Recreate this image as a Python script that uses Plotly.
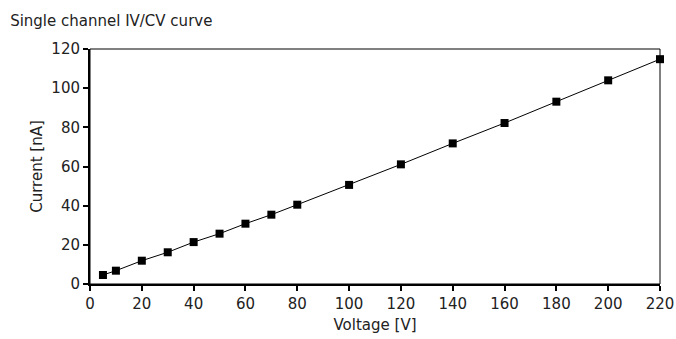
import plotly.graph_objects as go

voltage = [5, 10, 20, 30, 40, 50, 60, 70, 80, 100, 120, 140, 160, 180, 200, 220]
current = [4.6, 6.8, 11.9, 16.2, 21.4, 25.7, 30.8, 35.4, 40.5, 50.6, 61.1, 71.8, 82.2, 93.1, 104.0, 114.8]

x_ticks = list(range(0, 221, 20))
y_ticks = list(range(0, 121, 20))

FONT = "DejaVu Sans"

fig = go.Figure()
fig.add_trace(go.Scatter(
    x=voltage, y=current, mode="lines+markers",
    line=dict(color="black", width=1),
    marker=dict(symbol="square", size=8, color="black"),
    cliponaxis=False, showlegend=False,
))

fig.update_layout(
    width=676, height=339,
    margin=dict(l=90, r=16, t=49, b=55, autoexpand=False),
    paper_bgcolor="white", plot_bgcolor="white",
    font=dict(family=FONT, size=15, color="#222"),
    title=dict(text="Single channel IV/CV curve", x=0.015, xanchor="left",
               y=0.94, yanchor="middle", automargin=False,
               font=dict(family=FONT, size=15, color="#222")),
    xaxis=dict(range=[0, 220], tickvals=x_ticks, ticks="outside", ticklen=5, tickwidth=1.5,
               tickcolor="black", showgrid=False, zeroline=False, showline=True,
               automargin=False, ticklabeloverflow="allow",
               linecolor="black", linewidth=2, title=dict(text="Voltage [V]", standoff=7,
               font=dict(size=15))),
    yaxis=dict(range=[0, 120], tickvals=y_ticks, ticks="outside", ticklen=5, tickwidth=1.5,
               tickcolor="black", showgrid=False, zeroline=False, showline=True,
               automargin=False,
               linecolor="black", linewidth=2, title=dict(text="Current [nA]", standoff=5,
               font=dict(size=15))),
    shapes=[dict(type="rect", xref="paper", yref="paper", x0=0, x1=1, y0=0, y1=1,
                 line=dict(color="black", width=1))],
)

fig.write_html(
    "out.html",
    config={"displayModeBar": False},
    post_script="document.body.style.margin='0';document.body.style.overflow='hidden';",
)
